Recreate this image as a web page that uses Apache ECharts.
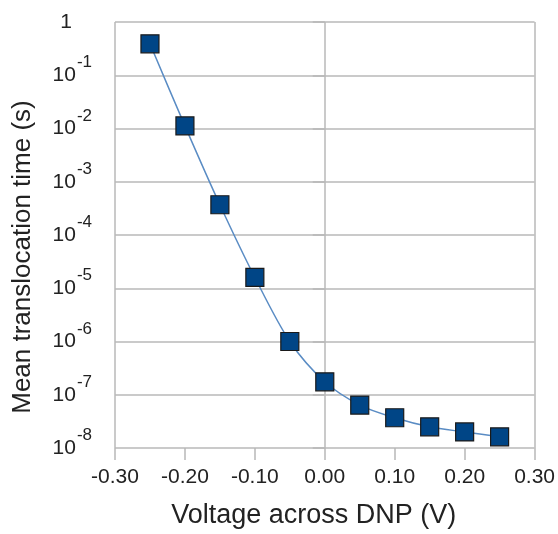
<!DOCTYPE html>
<html>
<head>
<meta charset="utf-8">
<script src="https://cdn.jsdelivr.net/npm/echarts@6/dist/echarts.min.js"></script>
<style>
html,body{margin:0;padding:0;background:#fff;}
#chart{width:558px;height:534px;}
</style>
</head>
<body>
<div id="chart"></div>
<script>
var voltages = [-0.25, -0.20, -0.15, -0.10, -0.05, 0.00, 0.05, 0.10, 0.15, 0.20, 0.25];
var times = [0.39, 0.0112, 3.7e-4, 1.6e-5, 1.0e-6, 1.75e-7, 6.4e-8, 3.7e-8, 2.5e-8, 2.0e-8, 1.62e-8];
var xTitle = 'Voltage across DNP (V)';
var yTitle = 'Mean translocation time (s)';

var FONT = '"Liberation Sans", Arial, sans-serif';
var GRID = '#b8b8b8';
var TEXT = '#222';

var chart = echarts.init(document.getElementById('chart'), null, {renderer: 'canvas'});
var pts = voltages.map(function (v, i) { return [v, times[i]]; });

chart.setOption({
  animation: false,
  backgroundColor: '#fff',
  grid: {left: 115, right: 22, top: 22, bottom: 85.5, containLabel: false},
  xAxis: [{
    type: 'value', min: -0.3, max: 0.3, interval: 0.1,
    position: 'bottom',
    name: xTitle, nameLocation: 'middle', nameGap: 54,
    nameTextStyle: {fontFamily: FONT, fontSize: 27, color: TEXT, padding: [0, 22, 0, 0]},
    axisLine: {show: false},
    axisTick: {show: true, inside: false, length: 12, lineStyle: {color: GRID, width: 1.5}},
    splitLine: {show: false},
    axisLabel: {
      fontFamily: FONT, fontSize: 21, color: TEXT, margin: 19,
      formatter: function (v) { return v.toFixed(2); }
    }
  }, {
    type: 'value', min: -0.3, max: 0.3, interval: 0.3,
    position: 'top',
    axisLine: {show: false}, axisTick: {show: false}, axisLabel: {show: false},
    splitLine: {show: true, lineStyle: {color: GRID, width: 1.5}}
  }],
  yAxis: {
    type: 'log', logBase: 10, min: 1e-8, max: 1, splitNumber: 8,
    name: yTitle, nameLocation: 'middle', nameGap: 79, nameRotate: 90,
    nameTextStyle: {fontFamily: FONT, fontSize: 26, color: TEXT, padding: [0, 44, 0, 0]},
    axisLine: {show: false},
    axisTick: {show: true, inside: false, length: 12, lineStyle: {color: GRID, width: 1.5}},
    splitLine: {show: true, lineStyle: {color: GRID, width: 1.5}},
    axisLabel: {
      margin: 23, color: TEXT, fontFamily: FONT,
      formatter: function (v) {
        var e = Math.round(Math.log10(v));
        if (e === 0) return '{one|1}';
        return '{b|10}{s|' + e + '}';
      },
      rich: {
        one: {fontFamily: FONT, fontSize: 21, color: TEXT, padding: [0, 20, 0, 0]},
        b: {fontFamily: FONT, fontSize: 21, lineHeight: 21, color: TEXT},
        s: {fontFamily: FONT, fontSize: 17, lineHeight: 18, color: TEXT, padding: [0, 0, 25, 1]}
      }
    }
  },
  series: [{
    type: 'line',
    xAxisIndex: 0,
    data: pts,
    smooth: 0.3,
    symbol: 'rect',
    symbolSize: 18,
    showAllSymbol: true,
    lineStyle: {color: '#5a8cc4', width: 1.5},
    itemStyle: {color: '#004586', borderColor: '#1a1a1a', borderWidth: 1.2}
  }]
});
</script>
</body>
</html>
